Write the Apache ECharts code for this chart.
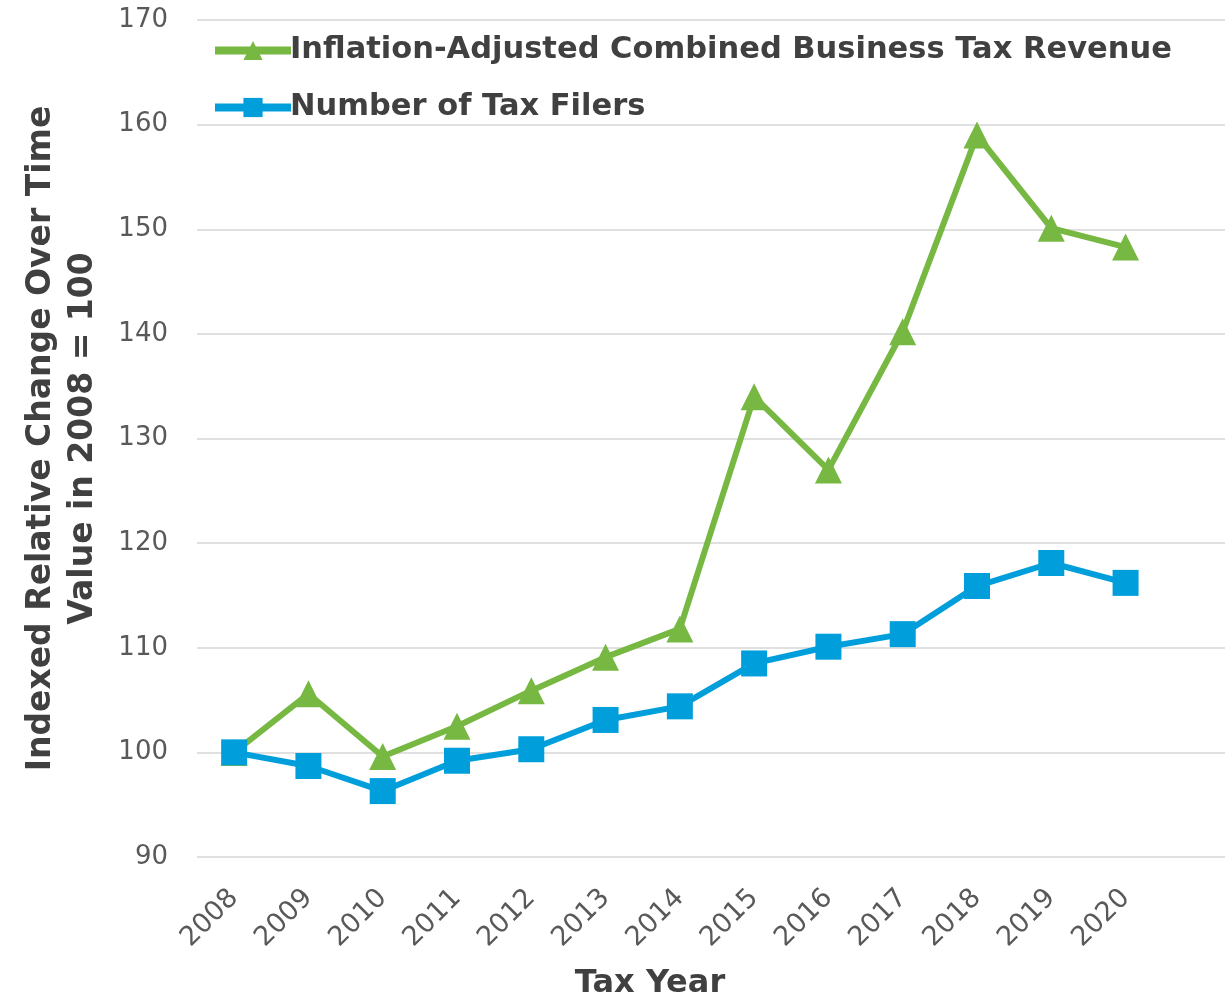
<!DOCTYPE html>
<html>
<head>
<meta charset="utf-8">
<script src="https://cdn.jsdelivr.net/npm/echarts@6/dist/echarts.min.js"></script>
<style>
  html, body { margin: 0; padding: 0; background: #fff; }
  #main { width: 1225px; height: 998px; }
</style>
</head>
<body>
<div id="main"></div>
<script>
const years = ["2008", "2009", "2010", "2011", "2012", "2013", "2014", "2015", "2016", "2017", "2018", "2019", "2020"];
const revenue = [100, 105.6, 99.6, 102.5, 105.9, 109.1, 111.8, 134.0, 127.0, 140.2, 159.0, 150.1, 148.3];
const filers = [100, 98.7, 96.3, 99.2, 100.3, 103.1, 104.4, 108.5, 110.1, 111.3, 115.9, 118.1, 116.2];

const chart = echarts.init(document.getElementById("main"));
const font = "'DejaVu Sans', sans-serif";

const option = {
  animation: false,
  textStyle: { fontFamily: font },
  title: {
    text: "Tax Year",
    left: 650,
    top: 968,
    padding: 0,
    textAlign: "center",
    textStyle: { fontSize: 32, fontWeight: "bold", color: "#404040", fontFamily: font }
  },
  legend: {
    orient: "vertical",
    left: 211,
    top: 35,
    padding: 0,
    itemWidth: 76,
    itemHeight: 24,
    itemGap: 26,
    lineStyle: { width: 8 },
    textStyle: { fontSize: 30.5, fontWeight: "bold", color: "#404040", fontFamily: font, padding: [0, 0, 0, -6] },
    data: ["Inflation-Adjusted Combined Business Tax Revenue", "Number of Tax Filers"]
  },
  grid: { left: 197, right: -12, top: 20, bottom: 141, outerBoundsMode: "none", containLabel: false },
  xAxis: {
    type: "category",
    // trailing blank slot keeps the gridlines running to the edge
    data: years.concat([""]),
    boundaryGap: true,
    axisLine: { show: false },
    axisTick: { show: false },
    axisLabel: { rotate: 45, fontSize: 27, color: "#595959", margin: 37, fontFamily: font }
  },
  yAxis: {
    type: "value",
    min: 90,
    max: 170,
    interval: 10,
    name: "Indexed Relative Change Over Time\nValue in 2008 = 100",
    nameLocation: "middle",
    nameGap: 93,
    nameTextStyle: { fontSize: 33, fontWeight: "bold", color: "#404040", lineHeight: 42, fontFamily: font },
    axisLine: { show: false },
    axisTick: { show: false },
    axisLabel: { fontSize: 26, color: "#595959", margin: 29, fontFamily: font },
    splitLine: { lineStyle: { color: "#e0e0e0", width: 2 } }
  },
  series: [
    {
      name: "Inflation-Adjusted Combined Business Tax Revenue",
      type: "line",
      data: revenue,
      symbol: "triangle",
      symbolSize: 27,
      lineStyle: { width: 6, color: "#77b843" },
      itemStyle: { color: "#77b843" }
    },
    {
      name: "Number of Tax Filers",
      type: "line",
      data: filers,
      symbol: "rect",
      symbolSize: 26,
      lineStyle: { width: 6, color: "#009fdb" },
      itemStyle: { color: "#009fdb" }
    }
  ]
};

chart.setOption(option);
</script>
</body>
</html>
